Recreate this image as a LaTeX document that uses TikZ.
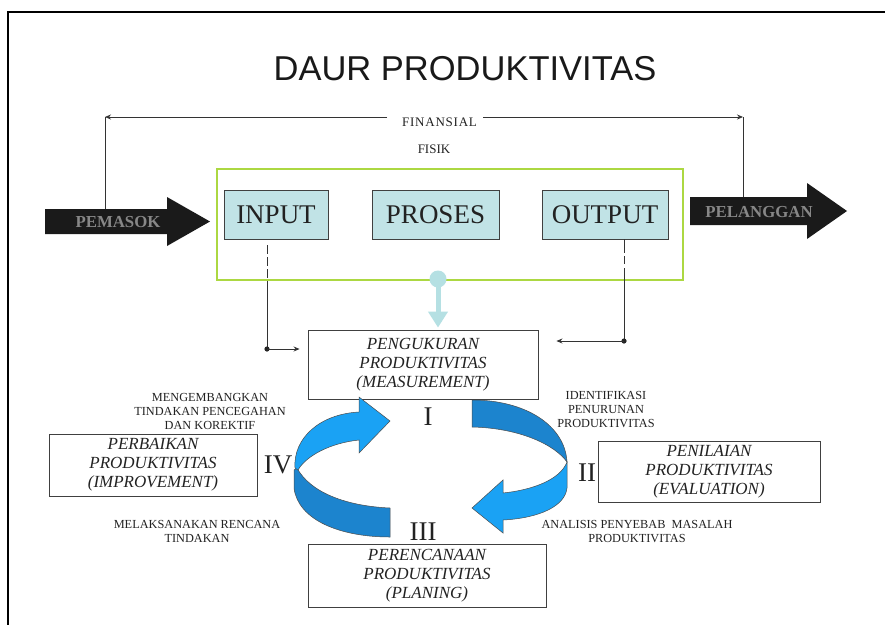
\documentclass[tikz,border=0pt]{standalone}
\usepackage{fontspec}
\setmainfont{Liberation Serif}
\setsansfont{Liberation Sans}
\newfontfamily\spacedserif[LetterSpace=6]{Liberation Serif}
\usetikzlibrary{arrows.meta,calc}

\definecolor{limeline}{RGB}{172,216,66}
\definecolor{boxcyan}{RGB}{193,227,230}
\definecolor{linkcyan}{RGB}{181,224,227}
\definecolor{ribbondark}{RGB}{28,132,206}
\definecolor{ribbonlight}{RGB}{26,162,244}
\definecolor{inkgrey}{RGB}{34,34,34}
\definecolor{arrowblack}{RGB}{26,26,26}
\definecolor{flowgrey}{RGB}{135,135,135}

\begin{document}
\begin{tikzpicture}[x=1pt,y=-1pt,
  stagebox/.style={draw=black!75, line width=0.9pt, fill=boxcyan, inner sep=0pt,
    font=\fontsize{27}{27}\selectfont, text=inkgrey},
  phasebox/.style={draw=black!75, line width=0.9pt, fill=white, inner sep=0pt,
    align=center, font=\fontsize{17}{19}\selectfont\itshape, text=inkgrey},
  note/.style={align=center, font=\fontsize{12.3}{14}\selectfont, text=inkgrey},
  flowlabel/.style={font=\fontsize{13}{13}\selectfont, text=inkgrey, anchor=base, inner sep=0pt},
  numeral/.style={font=\fontsize{27}{27}\selectfont, text=inkgrey, inner sep=0pt},
  flowtext/.style={font=\fontsize{16.8}{16.8}\selectfont\bfseries, text=flowgrey},
  wire/.style={draw=black!80, line width=0.8pt},
  tip/.style={-{Stealth[length=6pt,width=5pt]}},
  ribbon/.style={draw=black!70, line width=0.5pt}
]
\useasboundingbox (0,0) rectangle (885,625);
\fill[white] (0,0) rectangle (885,625);

% page frame
\draw[line width=1.8pt] (7,12) -- (885,12);
\draw[line width=1.8pt] (8,12) -- (8,625);

% title
\node[font=\sffamily\fontsize{34.5}{34.5}\selectfont, text=black!90, anchor=base, inner sep=0pt]
  (title) at (465,80) {DAUR PRODUKTIVITAS};

% financial / physical flow labels
\node[flowlabel, font=\spacedserif\fontsize{13}{13}\selectfont] (fin) at (439.5,126) {FINANSIAL};
\node[flowlabel] (fis) at (434,153) {FISIK};
\coordinate (finL) at (105,117);
\coordinate (finR) at (743,117);
\coordinate (gapL) at (387,117);
\coordinate (gapR) at (483,117);
\draw[wire, tip] (gapL) -- (finL);
\draw[wire, tip] (gapR) -- (finR);

% supplier and customer arrows
\fill[arrowblack] (45,209) -- (167,209) -- (167,197) -- (210,221.5) -- (167,246) -- (167,234) -- (45,234) -- cycle;
\node[flowtext] (pemasok) at (118,222) {PEMASOK};
\fill[arrowblack] (690,197) -- (807,197) -- (807,183) -- (847,211) -- (807,239) -- (807,225) -- (690,225) -- cycle;
\node[flowtext] (pelanggan) at (759,212) {PELANGGAN};
\coordinate (pemasoktop) at (105,209);
\coordinate (pelanggantop) at (743,197);
\draw[wire] (finL) -- (pemasoktop);
\draw[wire] (finR) -- (pelanggantop);

% system frame with the three stages
\node[draw=limeline, line width=1.2pt, minimum width=466pt, minimum height=111pt, inner sep=0pt] (system) at (450,224.5) {};
\node[stagebox, minimum width=104pt, minimum height=49pt] (input) at (276,214.5) {INPUT};
\node[stagebox, minimum width=127pt, minimum height=49pt] (proses) at (435.5,214.5) {PROSES};
\node[stagebox, minimum width=126pt, minimum height=49pt] (output) at (605,214.5) {OUTPUT};

% cycle boxes
\node[phasebox, minimum width=230pt, minimum height=69pt] (ukur) at (423,364.5)
  {PENGUKURAN\\PRODUKTIVITAS\\(MEASUREMENT)};
\node[phasebox, minimum width=208pt, minimum height=62pt] (baik) at (153,465)
  {PERBAIKAN\\PRODUKTIVITAS\\(IMPROVEMENT)};
\node[phasebox, minimum width=222pt, minimum height=61pt] (nilai) at (709,471.5)
  {PENILAIAN\\PRODUKTIVITAS\\(EVALUATION)};
\node[phasebox, minimum width=238pt, minimum height=63pt] (rencana) at (427,575.5)
  {PERENCANAAN\\PRODUKTIVITAS\\(PLANING)};

% measurement feeds from input and output
\coordinate (indot) at (267,349);
\coordinate (outdot) at (624,341);
\coordinate (inexit) at ($(input.south)+(-9,6)$);
\coordinate (outexit) at ($(output.south)+(19,0)$);
\draw[wire, dash pattern=on 9pt off 3pt] (inexit) -- (inexit |- system.south);
\draw[wire] (inexit |- system.south) -- (indot);
\draw[wire, dash pattern=on 14pt off 3pt on 8pt off 4pt] (outexit) -- (outexit |- system.south);
\draw[wire] (outexit |- system.south) -- (outdot);
\fill[black!85] (indot) circle[radius=2.6pt];
\fill[black!85] (outdot) circle[radius=2.6pt];
\draw[wire, tip, shorten >=8pt] (indot) -- (indot -| ukur.west);
\draw[wire, tip, shorten >=18pt] (outdot) -- (outdot -| ukur.east);

% link from the system to measurement
\coordinate (gbot) at (438,279);
\fill[linkcyan] (gbot) circle[radius=8.5pt];
\draw[linkcyan, line width=5pt, -{Triangle[length=16pt,width=19pt]}] (gbot) -- ($(ukur.north)+(15,-2)$);

% cycle ribbon: measurement -> evaluation -> planning
\filldraw[ribbon, fill=ribbondark] (472,400) .. controls (525,400) and (565,425) .. (567,462)
  .. controls (555,445) and (520,428) .. (472,427) -- cycle;
\filldraw[ribbon, fill=ribbonlight] (567,462) -- (567,488) .. controls (565,506) and (540,518) .. (503,520)
  -- (503,533) -- (472,508) -- (503,480) -- (503,493)
  .. controls (532,490) and (560,480) .. (567,462) -- cycle;

% cycle ribbon: planning -> improvement -> measurement
\filldraw[ribbon, fill=ribbondark] (390,508) .. controls (345,506) and (310,492) .. (297,468)
  -- (294,470) -- (294,488) .. controls (298,520) and (340,537) .. (390,537) -- cycle;
\filldraw[ribbon, fill=ribbonlight] (295,468) .. controls (293,438) and (320,414) .. (359,412)
  -- (359,397) -- (390,421) -- (359,453) -- (359,440)
  .. controls (330,443) and (306,456) .. (298,470) -- cycle;

% stage numerals
\node[numeral] (n1) at (428,417) {I};
\node[numeral] (n2) at (587,473) {II};
\node[numeral] (n3) at (423,532) {III};
\node[numeral] (n4) at (278,465) {IV};

% step notes
\node[note] (noteA) at (210,411) {MENGEMBANGKAN\\TINDAKAN PENCEGAHAN\\DAN KOREKTIF};
\node[note] (noteB) at (197,531.5) {MELAKSANAKAN RENCANA\\TINDAKAN};
\node[note] (noteC) at (606,409.5) {IDENTIFIKASI\\PENURUNAN\\PRODUKTIVITAS};
\node[note] (noteD) at (637,531.5) {ANALISIS PENYEBAB\ \ MASALAH\\PRODUKTIVITAS};
\end{tikzpicture}
\end{document}
